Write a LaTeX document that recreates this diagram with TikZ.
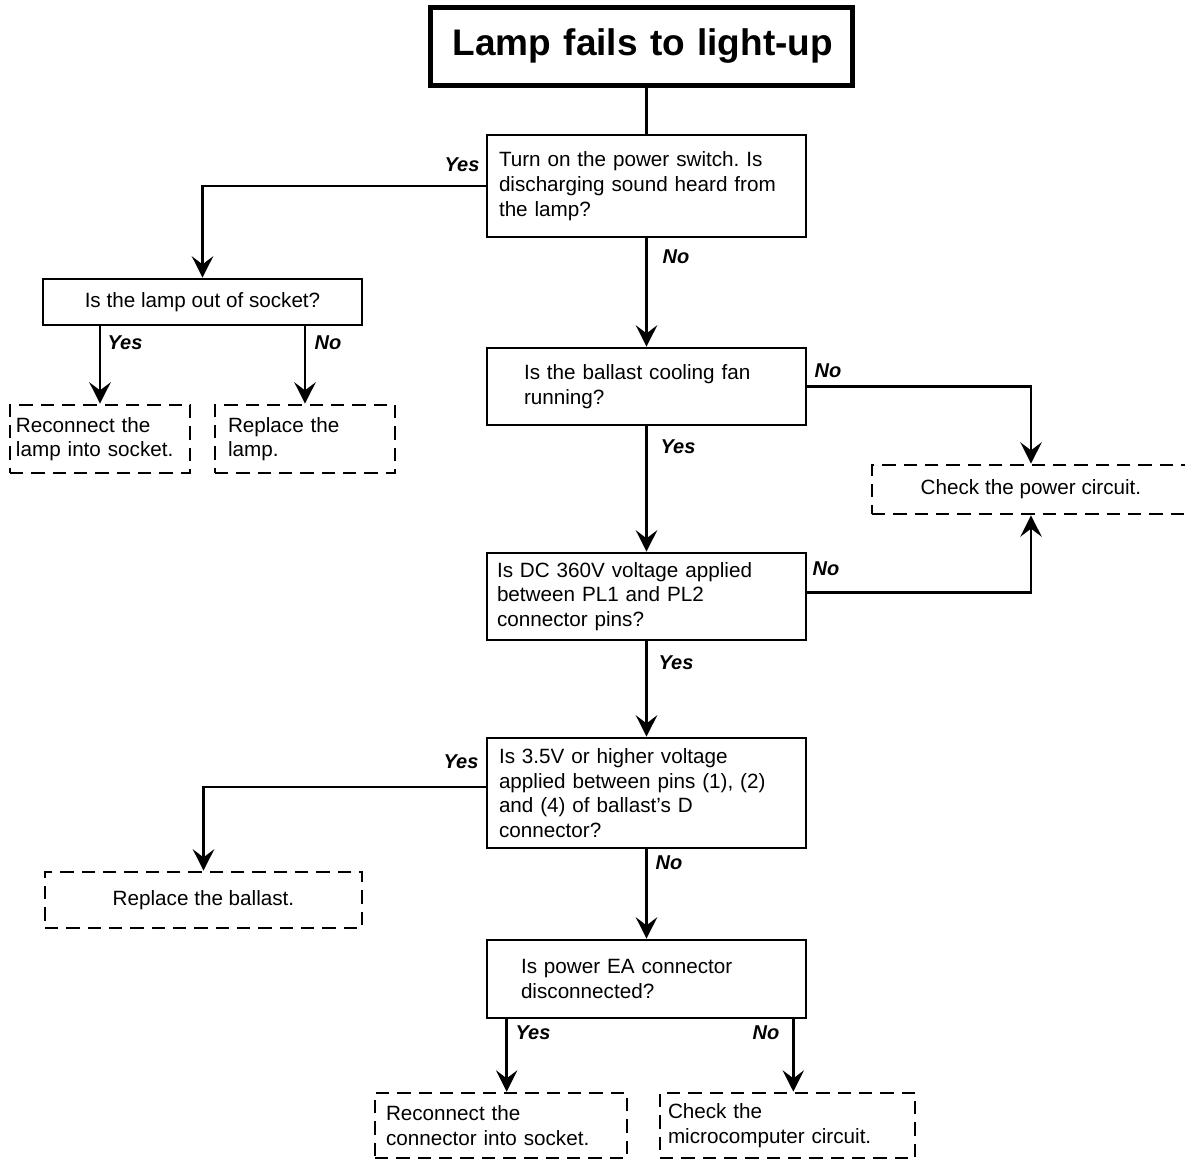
\documentclass[tikz,border=0pt]{standalone}
\usepackage{fontspec}
\setmainfont{Liberation Sans}
\usepackage{tikz}
\usetikzlibrary{arrows.meta, positioning, calc}
\frenchspacing

\begin{document}
\begin{tikzpicture}[
  x=0.75pt, y=-0.75pt,
  title/.style={draw, line width=3.75pt, inner sep=0pt, font=\fontsize{27.75}{30}\selectfont\bfseries},
  query/.style={draw, line width=2pt, inner sep=0pt, minimum width=319*\upx, align=left, font=\qfont},
  action/.style={draw, line width=2pt, dash pattern=on 10pt off 6pt, inner sep=0pt, align=left, font=\qfont},
  lbl/.style={inner sep=0pt, font=\fontsize{15}{16}\selectfont\bfseries\itshape},
  link/.style={line width=2pt},
  arr/.style={link, -{Stealth[length=16pt, width=16pt, inset=6pt]}}
]
\def\upx{0.75pt}
\def\qfont{\fontsize{15.5}{18.5}\selectfont}

\useasboundingbox (0,0) rectangle (1185,1160);

\node[title, minimum width=422*\upx, minimum height=78*\upx, text width=384*\upx, align=right] at (641,46) (lamp) {Lamp fails to light-up};

\node[query, minimum height=102*\upx, text width=295*\upx] at (646.5,186) (sound) {Turn on the power switch. Is\\discharging sound heard from\\the lamp?};
\node[query, minimum height=46*\upx, align=center] at (202.5,302) (socket) {Is the lamp out of socket?};
\node[query, minimum height=77*\upx, text width=245*\upx] at (646.5,386.5) (fan) {Is the ballast cooling fan\\running?};
\node[query, minimum height=87*\upx, text width=299*\upx] at (646.5,596.5) (dcv) {Is DC 360V voltage applied\\between PL1 and PL2\\connector pins?};
\node[query, minimum height=110*\upx, text width=295*\upx] at (646.5,793) (pins) {Is 3.5V or higher voltage\\applied between pins (1), (2)\\and (4) of ballast’s D\\connector?};
\node[query, minimum height=78*\upx, text width=251*\upx] at (646.5,979) (ea) {Is power EA connector\\disconnected?};

\node[action, minimum width=180*\upx, minimum height=68*\upx, text width=168*\upx] at (100,439) (reseat) {Reconnect the\\lamp into socket.};
\node[action, minimum width=180*\upx, minimum height=68*\upx, text width=154*\upx] at (305,439) (newlamp) {Replace the\\lamp.};
\node[action, minimum width=318*\upx, minimum height=49*\upx, align=center] at (1031,489.5) (power) {Check the power circuit.};
\node[action, minimum width=317*\upx, minimum height=56*\upx, align=center] at (203.5,900) (ballast) {Replace the ballast.};
\node[action, minimum width=252*\upx, minimum height=65*\upx, text width=230*\upx] at (501,1125.5) (reconn) {Reconnect the\\connector into socket.};
\node[action, minimum width=255*\upx, minimum height=65*\upx, text width=239*\upx] at (787.5,1125.5) (micro) {Check the\\microcomputer circuit.};

\draw[link] (lamp.south -| sound.north) -- (sound.north);
\draw[arr] (sound.west) -| (socket.north);
\draw[arr] (sound.south) -- (fan.north);
\draw[arr] (socket.south -| reseat.north) -- (reseat.north);
\draw[arr] (socket.south -| newlamp.north) -- (newlamp.north);
\draw[arr] (fan.east) -| (power.north);
\draw[arr] (fan.south) -- (dcv.north);
\draw[arr] ([yshift=3pt]dcv.east) -| (power.south);
\draw[arr] (dcv.south) -- (pins.north);
\draw[arr] ([yshift=4.5pt]pins.west) -| (ballast.north);
\draw[arr] (pins.south) -- (ea.north);
\draw[arr] (ea.south west) ++(21,0) coordinate (eaYes) -- (eaYes |- reconn.north);
\draw[arr] (ea.south east) ++(-14,0) coordinate (eaNo) -- (eaNo |- micro.north);

\node[lbl] at (462,165) (soundYes) {Yes};
\node[lbl] at (676,257) (soundNo) {No};
\node[lbl] at (125,343) (socketYes) {Yes};
\node[lbl] at (328,343) (socketNo) {No};
\node[lbl] at (828,371) (fanNo) {No};
\node[lbl] at (678,447) (fanYes) {Yes};
\node[lbl] at (826,569) (dcvNo) {No};
\node[lbl] at (676,663) (dcvYes) {Yes};
\node[lbl] at (461,762) (pinsYes) {Yes};
\node[lbl] at (669,863) (pinsNo) {No};
\node[lbl] at (533,1033) (eaYesLbl) {Yes};
\node[lbl] at (766,1033) (eaNoLbl) {No};

\end{tikzpicture}
\end{document}
